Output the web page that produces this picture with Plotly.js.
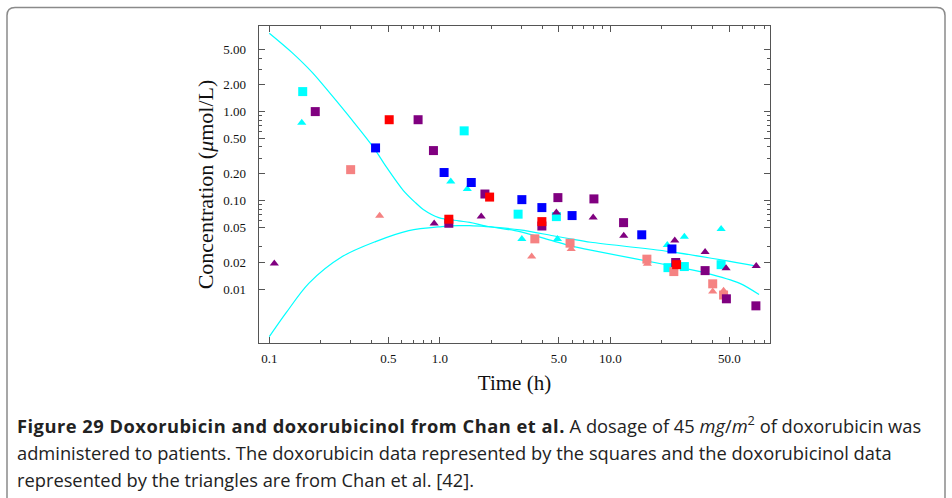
<!DOCTYPE html>
<html>
<head>
<meta charset="utf-8">
<script src="https://cdn.plot.ly/plotly-3.0.1.min.js"></script>
<style>
  html, body { margin: 0; padding: 0; background: #fff; }
  #chart { width: 952px; height: 498px; }
</style>
</head>
<body>
<div id="chart"></div>
<script>
// ---- Model curves ----
const doxFitT = [0.1, 0.136, 0.179, 0.234, 0.306, 0.41, 0.488, 0.61, 0.721, 0.80, 0.986, 1.29, 1.5, 1.87, 2.95, 4.61, 5.8, 7.69, 22.4, 36.5, 57.1, 74.6];
const doxFitC = [7.64, 4.62, 2.75, 1.50, 0.80, 0.39, 0.235, 0.13, 0.094, 0.079, 0.064, 0.0588, 0.0565, 0.0515, 0.0445, 0.035, 0.031, 0.0275, 0.0185, 0.0152, 0.0117, 0.0087];
const dolFitT = [0.1, 0.125, 0.171, 0.268, 0.42, 0.658, 1.03, 1.29, 1.5, 1.87, 2.95, 4.61, 5.8, 7.69, 22.4, 74.6];
const dolFitC = [0.00292, 0.00537, 0.0117, 0.0233, 0.0344, 0.0457, 0.0507, 0.052, 0.052, 0.0507, 0.0466, 0.040, 0.037, 0.0338, 0.0265, 0.018];

// ---- Doxorubicin data (squares) ----
const cyanSqT = [0.157, 1.39, 2.88, 4.83, 21.8, 27.2, 44.7];
const cyanSqC = [1.68, 0.607, 0.070, 0.0657, 0.0175, 0.018, 0.0189];
const salmonSqT = [0.30, 3.61, 5.81, 16.4, 23.6, 39.9, 46.2];
const salmonSqC = [0.222, 0.0369, 0.033, 0.0218, 0.0158, 0.0115, 0.0086];
const purpleSqT = [0.186, 0.746, 0.918, 1.13, 1.84, 3.97, 4.93, 8.02, 11.97, 24.2, 36, 48, 71.5];
const purpleSqC = [1.0, 0.81, 0.364, 0.0553, 0.118, 0.0515, 0.1075, 0.104, 0.0562, 0.020, 0.0162, 0.0078, 0.0065];
const blueSqT = [0.42, 1.06, 1.53, 3.03, 3.97, 5.97, 15.3, 23.0];
const blueSqC = [0.39, 0.206, 0.159, 0.102, 0.083, 0.0675, 0.041, 0.0284];
const redSqT = [0.505, 1.13, 1.96, 3.97, 24.5];
const redSqC = [0.81, 0.0614, 0.109, 0.0577, 0.0189];

// ---- Doxorubicinol data (triangles) ----
const cyanTrT = [0.155, 1.16, 1.45, 3.03, 4.9, 21.6, 27.2, 44.7];
const cyanTrC = [0.75, 0.163, 0.134, 0.0368, 0.0368, 0.0315, 0.039, 0.0477];
const salmonTrT = [0.444, 3.46, 5.9, 16.5, 23.6, 39.9, 46.2];
const salmonTrC = [0.067, 0.0233, 0.0284, 0.0193, 0.0172, 0.0094, 0.0096];
const purpleTrT = [0.107, 0.927, 1.75, 4.83, 7.94, 12.0, 23.9, 36.0, 47.8, 71.8];
const purpleTrC = [0.0195, 0.0548, 0.0657, 0.073, 0.064, 0.040, 0.0353, 0.0262, 0.0172, 0.0183];

// ---- Axis ticks ----
const xTickVals = [0.1, 0.5, 1, 5, 10, 50];
const xTickText = ['0.1', '0.5', '1.0', '5.0', '10.0', '50.0'];
const xMinorVals = [0.2, 0.3, 0.4, 0.6, 0.7, 0.8, 0.9, 2, 3, 4, 6, 7, 8, 9, 20, 30, 40, 60, 70, 80];
const yTickVals = [0.01, 0.02, 0.05, 0.1, 0.2, 0.5, 1, 2, 5];
const yTickText = ['0.01', '0.02', '0.05', '0.10', '0.20', '0.50', '1.00', '2.00', '5.00'];
const yMinorVals = [0.03, 0.06, 0.07, 0.08, 0.09, 0.3, 0.4, 0.6, 0.7, 0.8, 0.9, 3, 4];

// ---- Colours ----
const CYAN = '#00FFFF', SALMON = '#F58282', PURPLE = '#800080', BLUE = '#0000FF', RED = '#FF0000';

// ---- Layout geometry (pixels) ----
const W = 952, H = 498;
const PL = 259, PR = 770, PT = 26, PB = 343;
const px = x => (x - PL) / (PR - PL);
const py = y => (PB - y) / (PB - PT);

function line(t, c) {
  return { x: t, y: c, type: 'scatter', mode: 'lines', line: { color: CYAN, width: 1.2, shape: 'spline', smoothing: 0.9 }, hoverinfo: 'skip' };
}
function pts(t, c, color, symbol, size) {
  return { x: t, y: c, type: 'scatter', mode: 'markers', marker: { color: color, symbol: symbol, size: size, line: { width: 0 } } };
}

const data = [
  line(doxFitT, doxFitC),
  line(dolFitT, dolFitC),
  pts(cyanTrT, cyanTrC, CYAN, 'triangle-up', 8),
  pts(cyanSqT, cyanSqC, CYAN, 'square', 9),
  pts(salmonSqT, salmonSqC, SALMON, 'square', 9),
  pts(salmonTrT, salmonTrC, SALMON, 'triangle-up', 8),
  pts(purpleSqT, purpleSqC, PURPLE, 'square', 9),
  pts(purpleTrT, purpleTrC, PURPLE, 'triangle-up', 8),
  pts(blueSqT, blueSqC, BLUE, 'square', 9),
  pts(redSqT, redSqC, RED, 'square', 9)
];

const axisCommon = {
  type: 'log',
  showgrid: false,
  zeroline: false,
  showline: true,
  linecolor: '#555',
  linewidth: 1.3,
  mirror: 'ticks',
  ticks: 'inside',
  ticklen: 6,
  tickwidth: 1.1,
  tickcolor: '#555',
  tickmode: 'array',
  tickfont: { family: 'Liberation Serif', size: 13, color: '#111' }
};

const r = 8, bl = 7, bt = 7.5, br = 945, bb = 540;
const borderPath = 'M ' + px(bl) + ',' + py(bb) +
  ' L ' + px(bl) + ',' + py(bt + r) +
  ' Q ' + px(bl) + ',' + py(bt) + ' ' + px(bl + r) + ',' + py(bt) +
  ' L ' + px(br - r) + ',' + py(bt) +
  ' Q ' + px(br) + ',' + py(bt) + ' ' + px(br) + ',' + py(bt + r) +
  ' L ' + px(br) + ',' + py(bb);

const capFont = { family: 'Open Sans', size: 18.3, color: '#222' };
const layout = {
  width: W, height: H,
  margin: { l: PL, r: W - PR, t: PT, b: H - PB, pad: 0 },
  paper_bgcolor: '#fff', plot_bgcolor: '#fff',
  showlegend: false,
  font: { family: 'Liberation Serif', color: '#111' },
  xaxis: Object.assign({}, axisCommon, {
    range: [Math.log10(0.087), Math.log10(86.5)],
    tickvals: xTickVals, ticktext: xTickText,
    ticklabelstandoff: 3,
    minor: { tickmode: 'array', tickvals: xMinorVals, ticks: 'inside', ticklen: 3, tickwidth: 1, tickcolor: '#555', showgrid: false },
    title: { text: 'Time (h)', font: { family: 'Liberation Serif', size: 21, color: '#111' }, standoff: 10 },
    automargin: false
  }),
  yaxis: Object.assign({}, axisCommon, {
    range: [Math.log10(0.00248), Math.log10(9.2)],
    tickvals: yTickVals, ticktext: yTickText,
    ticklabelstandoff: 9,
    minor: { tickmode: 'array', tickvals: yMinorVals, ticks: 'inside', ticklen: 3, tickwidth: 1, tickcolor: '#555', showgrid: false },
    title: { text: 'Concentration (<i>μ</i>mol/L)', font: { family: 'Liberation Serif', size: 22, color: '#111' }, standoff: 3 },
    automargin: false
  }),
  shapes: [{
    type: 'path', xref: 'paper', yref: 'paper', path: borderPath,
    line: { color: '#8a8a8a', width: 1.5 }, fillcolor: 'rgba(0,0,0,0)', layer: 'below'
  }],
  annotations: [
    { xref: 'paper', yref: 'paper', x: px(15), y: py(424), xanchor: 'left', yanchor: 'middle', showarrow: false, align: 'left', font: capFont,
      text: '<span style="letter-spacing:0.5px"><b>Figure 29 Doxorubicin and doxorubicinol from Chan et al.</b></span> A dosage of 45 <i>mg</i>/<i>m</i><sup>2</sup> of doxorubicin was' },
    { xref: 'paper', yref: 'paper', x: px(15), y: py(452), xanchor: 'left', yanchor: 'middle', showarrow: false, align: 'left', font: capFont,
      text: 'administered to patients. The doxorubicin data represented by the squares and the doxorubicinol data' },
    { xref: 'paper', yref: 'paper', x: px(15), y: py(479), xanchor: 'left', yanchor: 'middle', showarrow: false, align: 'left', font: capFont,
      text: 'represented by the triangles are from Chan et al. [42].' }
  ]
};

Plotly.newPlot('chart', data, layout, { staticPlot: true, displayModeBar: false });
</script>
</body>
</html>
